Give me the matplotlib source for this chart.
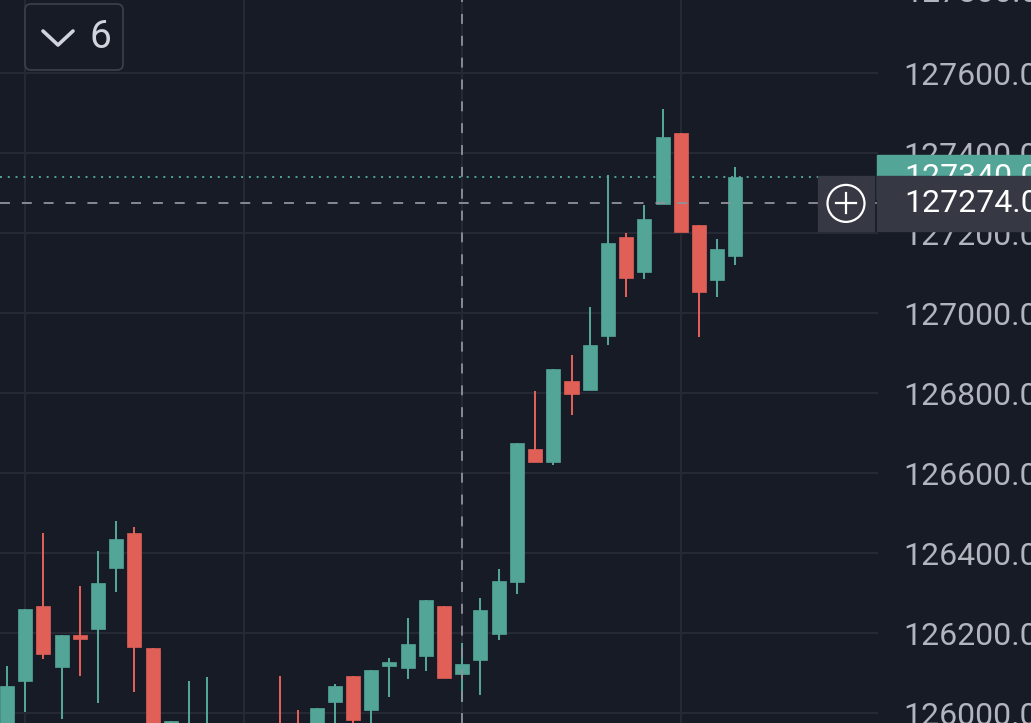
import matplotlib
matplotlib.use('Agg')
import matplotlib.pyplot as plt
from matplotlib.patches import Rectangle, Circle, FancyBboxPatch
from matplotlib.transforms import blended_transform_factory

plt.rcParams['font.family'] = ['Roboto', 'DejaVu Sans']

# candles, oldest first
opens = [125900, 126081, 126268, 126116, 126194, 126211, 126363, 126451, 126163, 125920,
         125900, 125940, 125960, 125910, 125930, 125960, 125975, 125950, 126027, 126093,
         126007, 126117, 126112, 126142, 126268, 126097, 126132, 126197, 126328, 126660,
         126628, 126830, 126808, 126943, 127190, 127103, 127273, 127450, 127220, 127083,
         127143]
highs = [126118, 126259, 126451, 126194, 126318, 126406, 126481, 126466, 126163, 125979,
         126079, 126089, 125970, 125965, 125970, 126093, 126008, 126013, 126073, 126093,
         126108, 126138, 126238, 126283, 126268, 126175, 126288, 126361, 126676, 126805,
         126860, 126895, 127015, 127344, 127200, 127270, 127510, 127450, 127220, 127185,
         127365]
lows = [125850, 126003, 126134, 125984, 126093, 126024, 126303, 126053, 125850, 125900,
        125880, 125920, 125900, 125890, 125910, 125900, 125920, 125930, 125950, 125960,
        125960, 126039, 126084, 126104, 126087, 126028, 126044, 126183, 126298, 126628,
        126620, 126745, 126808, 126920, 127041, 127086, 127273, 127203, 126941, 127041,
        127121]
closes = [126068, 126259, 126147, 126194, 126186, 126326, 126436, 126166, 125880, 125979,
          125960, 125965, 125920, 125950, 125960, 125930, 125940, 126013, 126068, 125982,
          126108, 126128, 126173, 126283, 126087, 126123, 126258, 126331, 126676, 126628,
          126860, 126798, 126920, 127174, 127088, 127235, 127440, 127203, 127053, 127160,
          127340]

price_ticks = [126000, 126200, 126400, 126600, 126800, 127000, 127200, 127400, 127600]
top_tick = 127800  # only half visible above the plot
grid_idx = [1, 13, 25, 37]
cross_idx = 25
cross_price = 127274.0
interval_label = '6'

bg = '#171b26'
green = '#52a597'
red = '#e05f57'
txt = '#b2b5be'
box = '#363944'

fig = plt.figure(figsize=(10.31, 7.23), dpi=100)
fig.patch.set_facecolor(bg)
ax = fig.add_axes([0, 0, 878 / 1031, 1])
ax.set_facecolor(bg)
for s in ax.spines.values():
    s.set_visible(False)

ax.yaxis.tick_right()
ax.set_yticks(price_ticks)
ax.set_yticklabels([f'{v:.1f}' for v in price_ticks])
ax.tick_params(axis='y', length=0, pad=18, labelsize=23, labelcolor=txt)
ax.set_xticks(grid_idx)
ax.tick_params(axis='x', length=0, labelbottom=False)
ax.grid(True, color='#272a35', lw=1.4)
ax.set_axisbelow(True)

# limits after the ticks, set_yticks would widen them
ax.set_xlim(-7 / 18.21, 871 / 18.21)
ax.set_ylim(125975, 127782.5)

for i in range(len(opens)):
    o, h, l, c = opens[i], highs[i], lows[i], closes[i]
    col = green if c >= o else red
    ax.vlines(i, l, h, color=col, lw=1.45, zorder=3)
    ax.bar(i, max(abs(c - o), 2.5), bottom=min(o, c), width=0.77, color=col,
           edgecolor=col, lw=0.5, zorder=4)

last = closes[-1]
ax.axhline(last, color=green, ls=(0, (1, 3)), lw=1.4, zorder=2)
ax.axhline(cross_price, color='#8f929b', ls=(0, (5.5, 6.6)), lw=1.3, zorder=5)
ax.axvline(cross_idx, color='#8f929b', ls=(0, (5.5, 6.6)), lw=1.3, zorder=5)

# overlay in pixel units for the labels and buttons
ov = fig.add_axes([0, 0, 1, 1])
ov.set_xlim(0, 1031)
ov.set_ylim(723, 0)
ov.axis('off')
trans = blended_transform_factory(ov.transData, ax.transData)

ov.text(904, top_tick, f'{top_tick:.1f}', transform=trans, color=txt, fontsize=23,
        va='center', clip_on=False)

# last price label, partly hidden under the crosshair label
ov.add_patch(Rectangle((877, last - 55), 160, 110, transform=trans, color=green,
                       clip_on=False, zorder=1))
ov.text(904, last, f'{last:.1f}', transform=trans, color='white', fontsize=23,
        va='center', zorder=1.5)

ov.add_patch(Rectangle((818, cross_price - 68.75), 56, 137.5, transform=trans,
                       color=box, clip_on=False, zorder=2))
ov.add_patch(Rectangle((877, cross_price - 68.75), 160, 137.5, transform=trans,
                       color=box, clip_on=False, zorder=2))
ov.text(904, cross_price, f'{cross_price:.1f}', transform=trans, color='white',
        fontsize=23, va='center', zorder=3)

cy = ov.transData.inverted().transform(ax.transData.transform((0, cross_price)))[1]
ov.add_patch(Circle((846, cy), 18.5, fill=False, ec='white', lw=1.6, zorder=3))
ov.plot([836, 856], [cy, cy], color='white', lw=1.6, zorder=3)
ov.plot([846, 846], [cy - 10, cy + 10], color='white', lw=1.6, zorder=3)

ov.add_patch(FancyBboxPatch((25, 4), 98, 66, boxstyle='round,pad=0,rounding_size=6',
                            fc=bg, ec='#3a3e4a', lw=1.3))
ov.plot([43, 58, 73], [31, 45, 31], color='#d1d4dc', lw=2.6, solid_capstyle='round',
        solid_joinstyle='round')
ov.text(100, 38, interval_label, color='#d1d4dc', fontsize=28, ha='center', va='center')

fig.savefig('out.png', dpi=100, facecolor=bg)
